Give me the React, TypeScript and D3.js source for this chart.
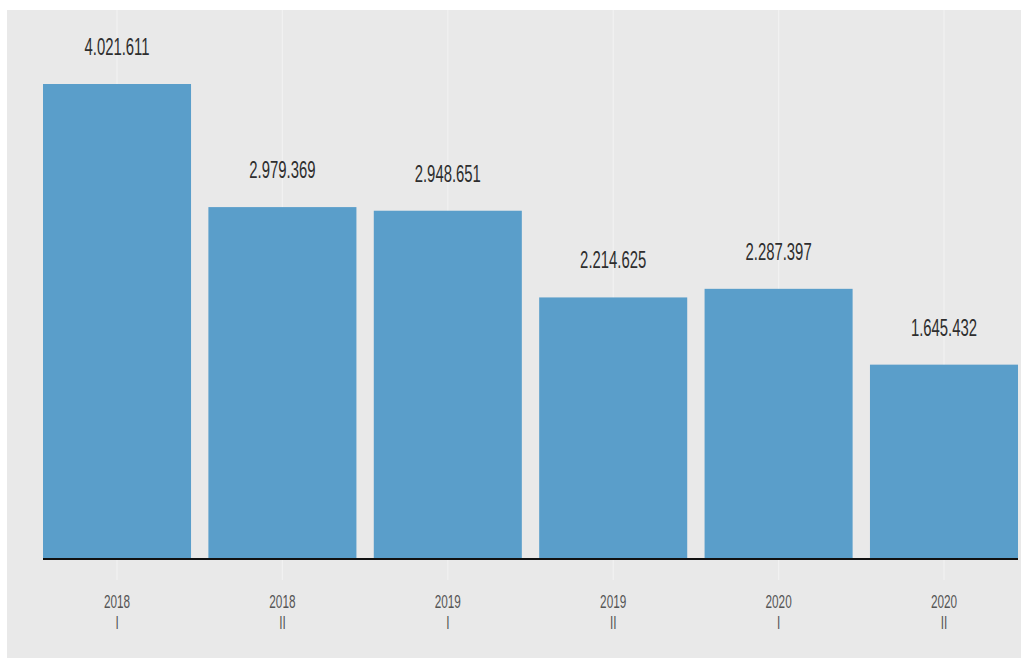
import React from "react";
import * as d3 from "d3";

const years = ["2018", "2018", "2019", "2019", "2020", "2020"];
const semesters = ["I", "II", "I", "II", "I", "II"];
const values = [4021611, 2979369, 2948651, 2214625, 2287397, 1645432];

const W = 1021;
const H = 660;

export default function App() {
  const idx = values.map((_, i) => i);
  const x = d3.scaleBand<number>().domain(idx).range([43, 1018]).paddingInner(0.105).paddingOuter(0);
  const y = d3.scaleLinear().domain([0, 4021611]).range([559, 84]);
  const fmt = (v: number) => d3.format(",")(v).replace(/,/g, ".");
  const font = "'Liberation Sans', Arial, sans-serif";
  return (
    <svg width={W} height={H} style={{ position: "absolute", left: 0, top: 0, background: "#ffffff" }}>
      <rect x={7} y={10} width={W - 7} height={648} fill="#e9e9e9" />
      {idx.map((i) => {
        const cx = (x(i) as number) + x.bandwidth() / 2;
        return <line key={"g" + i} x1={cx} x2={cx} y1={10} y2={580} stroke="#f1f1f1" strokeWidth={1.2} />;
      })}
      {idx.map((i) => (
        <rect key={"b" + i} x={x(i)} y={y(values[i])} width={x.bandwidth()} height={y(0) - y(values[i])} fill="#5a9eca" />
      ))}
      <line x1={43} x2={1018} y1={559} y2={559} stroke="#111" strokeWidth={2.2} />
      {idx.map((i) => {
        const cx = (x(i) as number) + x.bandwidth() / 2;
        return (
          <text
            key={"v" + i}
            transform={`translate(${cx},${y(values[i]) - 29}) scale(0.62,1)`}
            textAnchor="middle"
            fontFamily={font}
            fontSize={24}
            fill="#2e2e2e"
          >
            {fmt(values[i])}
          </text>
        );
      })}
      {idx.map((i) => {
        const cx = (x(i) as number) + x.bandwidth() / 2;
        return (
          <g key={"t" + i} fill="#555" fontFamily={font} fontSize={19}>
            <text transform={`translate(${cx},608) scale(0.62,1)`} textAnchor="middle">{years[i]}</text>
            <text transform={`translate(${cx},629) scale(0.62,1)`} textAnchor="middle">{semesters[i]}</text>
          </g>
        );
      })}
    </svg>
  );
}
